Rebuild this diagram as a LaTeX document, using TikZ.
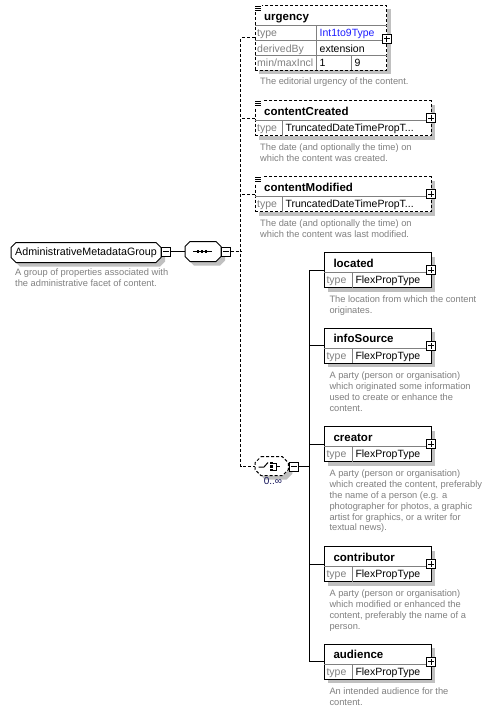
\documentclass[tikz,border=0pt]{standalone}
\usepackage{fontspec}
\setmainfont{Liberation Sans}
\definecolor{shadowc}{RGB}{192,192,192}
\definecolor{descc}{RGB}{128,128,128}
\definecolor{bluec}{RGB}{30,30,255}
\definecolor{navyc}{RGB}{20,20,90}
\tikzset{
 box/.style={draw,fill=white,line width=1pt,inner sep=0pt,outer sep=0pt,rectangle},
 dashbox/.style={dash pattern=on 3pt off 2pt},
 innerl/.style={draw=descc,line width=1pt},
 title/.style={font=\bfseries\fontsize{11.5}{13}\selectfont,inner sep=0pt},
 lab/.style={font=\fontsize{10.5}{12}\selectfont,text=descc,inner sep=0pt},
 val/.style={font=\fontsize{10.5}{12}\selectfont,inner sep=0pt},
 desc/.style={font=\fontsize{9.3}{10.8}\selectfont,text=descc,align=left,inner sep=0pt,anchor=north west},
 pm/.style={draw,fill=white,line width=0.8pt,minimum size=9pt,inner sep=0pt,outer sep=0pt,rectangle},
 plusbox/.style={pm,path picture={\draw[line width=0.8pt] ([xshift=1.6pt]path picture bounding box.west) -- ([xshift=-1.6pt]path picture bounding box.east) ([yshift=-1.6pt]path picture bounding box.north) -- ([yshift=1.6pt]path picture bounding box.south);}},
 minusbox/.style={pm,path picture={\draw[line width=0.8pt] ([xshift=1.6pt]path picture bounding box.west) -- ([xshift=-1.6pt]path picture bounding box.east);}},
 conn/.style={line width=1pt},
 dconn/.style={line width=1pt,dash pattern=on 3pt off 2pt},
 anchorbox/.style={rectangle,inner sep=0pt,outer sep=0pt},
}
% octagon outline: x1 y1 x2 y2 chamfer style
\newcommand\octshape[6]{\path[#6] (#1+#5,#2) -- (#3-#5,#2) -- (#3,#2+#5) -- (#3,#4-#5) -- (#3-#5,#4) -- (#1+#5,#4) -- (#1,#4-#5) -- (#1,#2+#5) -- cycle;}
% annotation icon at top-left corner
\newcommand\annoticon[2]{\fill[white] (#1-0.5,#2-0.5) rectangle (#1+7,#2+6.5);
 \draw[line width=0.8pt] (#1,#2+1) -- (#1+6,#2+1) (#1,#2+3) -- (#1+6,#2+3) (#1,#2+5) -- (#1+6,#2+5);}
% element box: id, left, top, width, title, divider x, value, style
\newcommand\elembox[8]{%
 \fill[shadowc] (#2+4,#3+4) rectangle (#2+#4+4,#3+39);
 \node[box,#8,anchor=north west,minimum width=#4,minimum height=35] (#1) at (#2,#3) {};
 \draw[innerl] (#2,#3+20) -- (#2+#4,#3+20) (#6,#3+20) -- (#6,#3+35);
 \node[title,anchor=base west] (#1-t) at (#2+9,#3+14.5) {#5};
 \node[lab,anchor=base west] (#1-k) at (#2+2,#3+31) {type};
 \node[val,anchor=base west] (#1-v) at (#6+3,#3+31) {#7};
 \node[plusbox] (#1-p) at (#1.east) {};
}
\begin{document}
\begin{tikzpicture}[x=1pt,y=-1pt]
\useasboundingbox (0,0) rectangle (493,713);
\fill[white] (0,0) rectangle (493,713);

% ---------- root ----------
\octshape{15}{246.5}{165}{266.5}{5}{fill=shadowc}
\octshape{11}{242.5}{161}{262.5}{5}{draw,fill=white,line width=1pt}
\node[anchorbox,minimum width=150,minimum height=20,font=\fontsize{10.7}{12}\selectfont] (root) at (86,252.5) {AdministrativeMetadataGroup};
\node[minusbox] (rootm) at (166.3,251.5) {};
\node[desc] (root-d) at (15,269) {A group of properties associated with\\the administrative facet of content.};

% ---------- sequence ----------
\octshape{189}{245.5}{225}{265.5}{5}{fill=shadowc}
\octshape{185}{241.5}{221}{261.5}{5}{draw,fill=white,line width=1pt}
\node[anchorbox,minimum width=36,minimum height=20] (seq) at (203,251.5) {};
\draw[line width=1pt] (193,251.5) -- (212,251.5);
\foreach \sx in {198,202,206} {\fill (\sx-1.3,250.2) rectangle (\sx+1.3,252.8);}
\node[minusbox] (seqm) at (226,251.5) {};
\draw[conn] (rootm.east) -- (seq.west);

% ---------- urgency ----------
\fill[shadowc] (259,9.3) rectangle (390.7,74.3);
\node[box,dashbox,anchor=north west,minimum width=131.7,minimum height=65] (urgency) at (255,5.3) {};
\draw[innerl] (255,25.3) -- (386.7,25.3) (255,40.7) -- (386.7,40.7) (255,55.3) -- (386.7,55.3)
 (316.3,25.3) -- (316.3,70.3) (351.7,55.3) -- (351.7,70.3);
\node[title,anchor=base west] (urgency-t) at (264,20) {urgency};
\node[lab,anchor=base west] (urgency-k1) at (257,36.6) {type};
\node[val,anchor=base west,text=bluec] (urgency-v1) at (319.5,36.6) {Int1to9Type};
\node[lab,anchor=base west] (urgency-k2) at (257,52) {derivedBy};
\node[val,anchor=base west] (urgency-v2) at (319.5,52) {extension};
\node[lab,anchor=base west] (urgency-k3) at (257,66.6) {min/maxIncl};
\node[val,anchor=base west] (urgency-v3) at (319.5,66.6) {1};
\node[val,anchor=base west] (urgency-v4) at (354.5,66.6) {9};
\node[plusbox] (urgency-p) at (386.7,38.7) {};
\annoticon{255}{5}
\node[desc] (urgency-d) at (260,78) {The editorial urgency of the content.};

% ---------- contentCreated / contentModified ----------
\elembox{cc}{255}{100.7}{176}{contentCreated}{282.3}{TruncatedDateTimePropT...}{dashbox}
\annoticon{255}{100.5}
\node[desc] (cc-d) at (260,144) {The date (and optionally the time) on\\which the content was created.};
\elembox{cm}{255}{176.7}{176}{contentModified}{282.3}{TruncatedDateTimePropT...}{dashbox}
\annoticon{255}{176.5}
\node[desc] (cm-d) at (260,220) {The date (and optionally the time) on\\which the content was last modified.};

% ---------- choice ----------
\octshape{259}{460.7}{292.3}{479.7}{6}{fill=shadowc}
\octshape{255}{456.7}{288.3}{475.7}{6}{draw,fill=white,line width=1pt,dash pattern=on 3pt off 2pt}
\node[anchorbox,minimum width=33.3,minimum height=19] (choice) at (271.7,466.2) {};
\draw[line width=1pt] (258.5,467) -- (264,467) -- (268,462.5);
\foreach \sy in {463,466.5,470} {\fill (270,\sy-1.3) rectangle (272.6,\sy+1.3);}
\draw[line width=0.9pt] (272.6,463) -- (276.5,463) -- (276.5,470) -- (272.6,470) (276.5,466.5) -- (280,466.5);
\node[minusbox] (choicem) at (294,466.5) {};
\node[font=\fontsize{10}{11}\selectfont,text=navyc,inner sep=0pt] (occ) at (273,481) {0..∞};

% ---------- bottom elements ----------
\elembox{located}{324.3}{252.7}{106.7}{located}{352.3}{FlexPropType}{}
\node[desc] (located-d) at (329.3,296) {The location from which the content\\originates.};
\elembox{infosource}{324.3}{328.3}{106.7}{infoSource}{352.3}{FlexPropType}{}
\node[desc] (infosource-d) at (329.3,372) {A party (person or organisation)\\which originated some information\\used to create or enhance the\\content.};
\elembox{creator}{324.3}{426.7}{106.7}{creator}{352.3}{FlexPropType}{}
\node[desc] (creator-d) at (329.3,470) {A party (person or organisation)\\which created the content, preferably\\the name of a person (e.g. a\\photographer for photos, a graphic\\artist for graphics, or a writer for\\textual news).};
\elembox{contributor}{324.3}{546.7}{106.7}{contributor}{352.3}{FlexPropType}{}
\node[desc] (contributor-d) at (329.3,590) {A party (person or organisation)\\which modified or enhanced the\\content, preferably the name of a\\person.};
\elembox{audience}{324.3}{644.3}{106.7}{audience}{352.3}{FlexPropType}{}
\node[desc] (audience-d) at (329.3,687.7) {An intended audience for the\\content.};

% ---------- connectors ----------
\coordinate (tx) at (240.7,0);
\draw[dconn] (seqm.east) -- (seqm.east -| tx);
\draw[dconn] (urgency.west) -- (urgency.west -| tx) -- (choice.west -| tx) -- (choice.west);
\draw[dconn] (cc.west) -- (cc.west -| tx);
\draw[dconn] (cm.west) -- (cm.west -| tx);
\coordinate (sx) at (309.3,0);
\draw[conn] (choicem.east) -- (choicem.east -| sx);
\draw[conn] (located.west) -- (located.west -| sx) -- (audience.west -| sx) -- (audience.west);
\draw[conn] (infosource.west) -- (infosource.west -| sx);
\draw[conn] (creator.west) -- (creator.west -| sx);
\draw[conn] (contributor.west) -- (contributor.west -| sx);
\end{tikzpicture}
\end{document}
